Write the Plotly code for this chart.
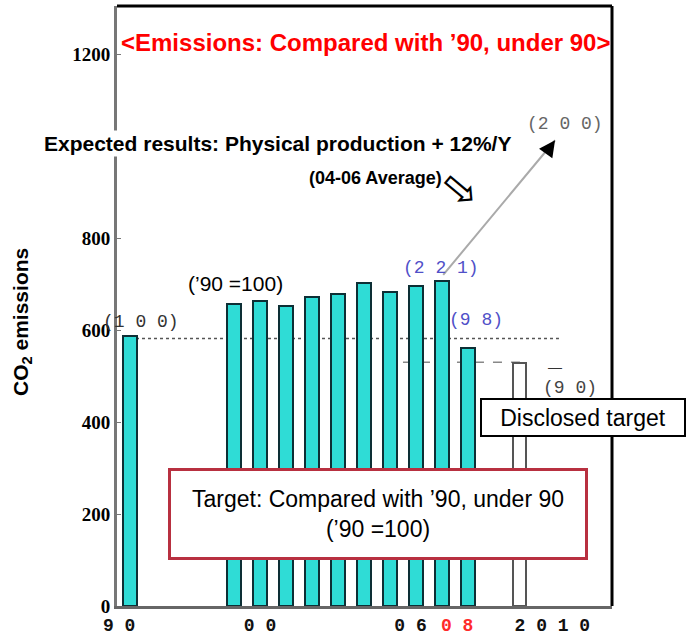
import plotly.graph_objects as go

# ---- data ----
categories = ["1990", "g1", "g2", "g3", "1999", "2000", "2001", "2002", "2003",
              "2004", "2005", "2006", "2007", "2008", "2009", "2010"]
bar_years = ["1990", "1999", "2000", "2001", "2002", "2003", "2004", "2005",
             "2006", "2007", "2008"]
bar_values = [587, 657, 663, 652, 672, 678, 702, 683, 696, 707, 561]
target_year = ["2010"]
target_value = [528]
tick_years = ["1990", "2000", "2006", "2008", "2010"]
tick_text = ["9 0\u00a0\u00a0", "0 0", "0 6\u00a0",
             '<span style="color:#ff2a2a">0 8</span>\u00a0\u00a0',
             "\u00a0\u00a0\u00a0\u00a0\u00a0\u00a02 0 1 0"]
y_ticks = [0, 200, 400, 600, 800, 1000, 1200]

# ---- layout helpers (pixel -> paper) ----
L, R, T, B = 117, 612, 6, 606
W, H = 686, 643
def px(x):
    return (x - L) / (R - L)
def py(y):
    return (B - y) / (B - T)

fig = go.Figure()
fig.add_trace(go.Bar(x=bar_years, y=bar_values, width=0.55,
                     marker=dict(color="#2fdcd6", line=dict(color="#0d2f35", width=2)),
                     showlegend=False))
fig.add_trace(go.Bar(x=target_year, y=target_value, width=0.5,
                     marker=dict(color="white", line=dict(color="#555555", width=2)),
                     showlegend=False))

mono = "Liberation Mono"
sans = "Liberation Sans, Arial"
ann = []
def txt(x, y, text, **kw):
    d = dict(x=px(x), y=py(y), xref="paper", yref="paper", showarrow=False,
             text=text, xanchor="center", yanchor="middle")
    d.update(kw)
    ann.append(d)

# title
txt(365, 42, "&lt;Emissions: Compared with \u201990, under 90&gt;",
    font=dict(family=sans, size=24, color="#ff0000", weight="bold"))
# arrow line from 2007 bar
i2007 = categories.index("2007")
ann.append(dict(x=16.35, y=1013, xref="x", yref="y", ax=i2007, ay=bar_values[9] + 10,
                axref="x", ayref="y", showarrow=True, arrowhead=0, arrowwidth=2,
                arrowcolor="#aaaaaa", text=""))
ann.append(dict(x=16.35, y=1013, xref="x", yref="y", ax=16.0, ay=985,
                axref="x", ayref="y", showarrow=True, arrowhead=2, arrowsize=1.3,
                arrowwidth=2.5, arrowcolor="#000000", text=""))
# expected results
txt(277, 143, "Expected results: Physical production + 12%/Y", bgcolor="white",
    font=dict(family=sans, size=21, color="black", weight="bold"))
txt(375, 178, "(04-06 Average)",
    font=dict(family=sans, size=18, color="black", weight="bold"))
txt(461, 188, "\u21e8", textangle=40,
    font=dict(family="DejaVu Sans", size=44, color="black"))
txt(565, 124, "(2 0 0)", font=dict(family=mono, size=18, color="#666666"))
txt(235, 283, "(\u201990 =100)", font=dict(family=sans, size=21, color="black"))
txt(141, 322, "(1 0 0)", font=dict(family=mono, size=18, color="#333333"))
txt(441, 268, "(2 2 1)", font=dict(family=mono, size=18, color="#5050c8"))
txt(476, 320, "(9 8)", font=dict(family=mono, size=18, color="#5050c8"))
txt(555, 367, "\u2014", font=dict(family=sans, size=14, color="#333333"))
txt(570, 388, "(9 0)", font=dict(family=mono, size=18, color="#444444"))
# disclosed target box
txt(583, 417, "Disclosed target", bgcolor="white", bordercolor="black",
    borderwidth=2, borderpad=0, width=202, height=35,
    font=dict(family=sans, size=23, color="black"))
# target box
txt(378, 514, "Target: Compared with \u201990, under 90<br>(\u201990 =100)",
    bgcolor="white", bordercolor="#b83040", borderwidth=3, borderpad=0,
    width=414, height=86, align="center",
    font=dict(family=sans, size=23, color="black"))
# y axis title
txt(22, 322, "CO<sub>2</sub> emissions", textangle=-90,
    font=dict(family=sans, size=21, color="black", weight="bold"))

shapes = [
    dict(type="line", xref="x", yref="y", x0=0, x1=16.5, y0=bar_values[0] - 5,
         y1=bar_values[0] - 5, line=dict(color="#555555", width=1.5, dash="dot"), layer="below"),
    dict(type="line", xref="x", yref="y", x0=10.5, x1=15, y0=target_value[0] + 2,
         y1=target_value[0] + 2, line=dict(color="#888888", width=1.5, dash="dash"), layer="below"),
    dict(type="line", xref="paper", yref="paper", x0=0, x1=1.0, y0=1, y1=1,
         line=dict(color="black", width=3)),
    dict(type="line", xref="paper", yref="paper", x0=1.0, x1=1.0, y0=0, y1=1,
         line=dict(color="black", width=3)),
]

fig.update_layout(
    width=W, height=H,
    margin=dict(l=L, r=W - R, t=T, b=H - B, autoexpand=False),
    paper_bgcolor="white", plot_bgcolor="white",
    annotations=ann, shapes=shapes, bargap=0,
    xaxis=dict(type="category", categoryorder="array", categoryarray=categories,
               range=[-0.5, 18.54], tickmode="array", tickvals=tick_years,
               ticktext=tick_text, tickangle=0, automargin=False,
               showgrid=False, showline=True, linecolor="#666666",
               linewidth=3, ticks="", zeroline=False,
               tickfont=dict(family=mono, size=18, color="#111111", weight="bold")),
    yaxis=dict(range=[0, 1305], tickvals=y_ticks, showgrid=False, showline=True,
               automargin=False,
               linecolor="#777777", linewidth=3, ticks="inside", ticklen=4,
               tickcolor="#777777", zeroline=False,
               tickfont=dict(family="Liberation Serif", size=19, color="black", weight="bold")),
)

fig.write_html("out.html", config={"displayModeBar": False},
               post_script="document.body.style.margin='0';document.body.style.overflow='hidden';")
